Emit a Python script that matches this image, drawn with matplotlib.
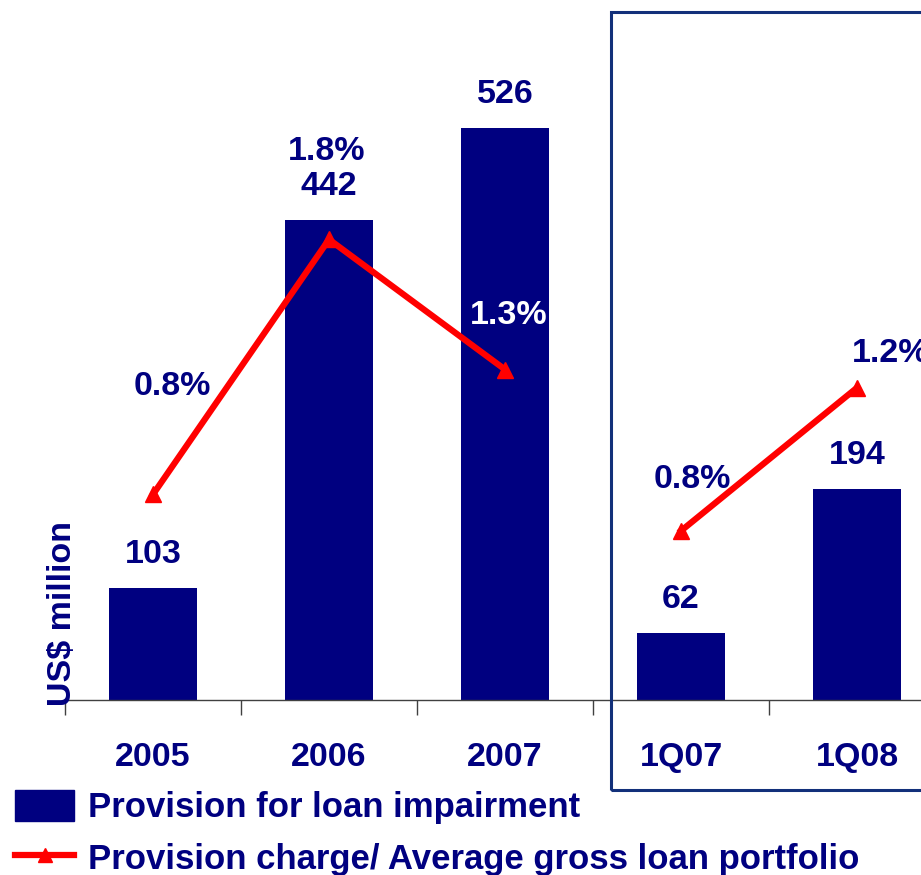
import matplotlib
matplotlib.use("Agg")
import matplotlib.pyplot as plt
import matplotlib.patches as mpatches
from matplotlib.lines import Line2D
import numpy as np

plt.rcParams['font.family'] = ['Liberation Sans', 'DejaVu Sans']
plt.rcParams['font.weight'] = 'bold'

categories = ["2005", "2006", "2007", "1Q07", "1Q08"]
provision = [103, 442, 526, 62, 194]
ratio_annual = [0.82, 1.80, 1.30]          # 2005-2007 (% of avg gross loans)
ratio_quarter = [0.68, 1.23]               # 1Q07, 1Q08
ratio_labels = ["0.8%", "1.8%", "1.3%", "0.8%", "1.2%"]
label_offsets = [(14, 78), (-2, 63), (3, 39), (8, 37), (24, 25)]
label_colors = ["#000080", "#000080", "white", "#000080", "#000080"]

NAVY = "#000080"
RED = "#FF0000"
FS = 24.5

fig = plt.figure(figsize=(9.21, 8.75), dpi=100)
ax = fig.add_axes([65 / 921, 0.2, 880 / 921, 0.8])
x = np.arange(len(categories))

ax.bar(x, provision, width=0.5, color=NAVY, zorder=2)
ax.set_ylim(0, 644)
ax.set_xlim(-0.5, len(categories) - 0.5)

for xi, v in zip(x, provision):
    ax.annotate(str(v), (xi, v), xytext=(0, 24), textcoords='offset points',
                ha='center', va='center', fontsize=FS, fontweight='bold', color=NAVY)

for s in ['top', 'right', 'left']:
    ax.spines[s].set_visible(False)
ax.spines['bottom'].set_color('#404040')
ax.spines['bottom'].set_linewidth(1.0)
ax.set_yticks([])
ax.set_xticks(x)
ax.set_xticklabels(categories, fontsize=FS, fontweight='bold', color=NAVY)
ax.tick_params(axis='x', which='major', length=0, pad=30)
ax.set_xticks(np.arange(-0.5, len(categories)), minor=True)
ax.tick_params(axis='x', which='minor', length=11, color='#404040', width=1)

ax2 = ax.twinx()
ax2.set_ylim(0.03, 2.72)
ax2.axis('off')
ax2.plot(x[:3], ratio_annual, color=RED, lw=4.5, marker='^', markersize=12, zorder=3)
ax2.plot(x[3:], ratio_quarter, color=RED, lw=4.5, marker='^', markersize=12, zorder=3)

all_ratios = ratio_annual + ratio_quarter
for xi, v, lab, off, c in zip(x, all_ratios, ratio_labels, label_offsets, label_colors):
    ax2.annotate(lab, (xi, v), xytext=off, textcoords='offset points',
                 ha='center', va='center', fontsize=FS, fontweight='bold', color=c,
                 annotation_clip=False)

fig.text(62 / 921, 1 - 613 / 875, "US$ million", rotation=90, ha='center', va='center',
         fontsize=FS, fontweight='bold', color=NAVY)

rect = mpatches.Rectangle((611 / 921, 1 - 790 / 875), 0.5, (790 - 12) / 875,
                          transform=fig.transFigure, fill=False, edgecolor='#12307a',
                          lw=2.2, clip_on=False)
fig.patches.append(rect)

handles = [mpatches.Patch(color=NAVY, label="Provision for loan impairment"),
           Line2D([0], [0], color=RED, lw=4.5, marker='^', markersize=10,
                  label="Provision charge/ Average gross loan portfolio")]
leg = fig.legend(handles=handles, loc='upper left', bbox_to_anchor=(15 / 921, 1 - 790 / 875),
                 frameon=False, fontsize=25, handlelength=1.7, handletextpad=0.4,
                 handleheight=1.0, labelspacing=0.48, borderpad=0, borderaxespad=0)
for t in leg.get_texts():
    t.set_color(NAVY)
    t.set_fontweight('bold')

fig.savefig("out.png", dpi=100)
